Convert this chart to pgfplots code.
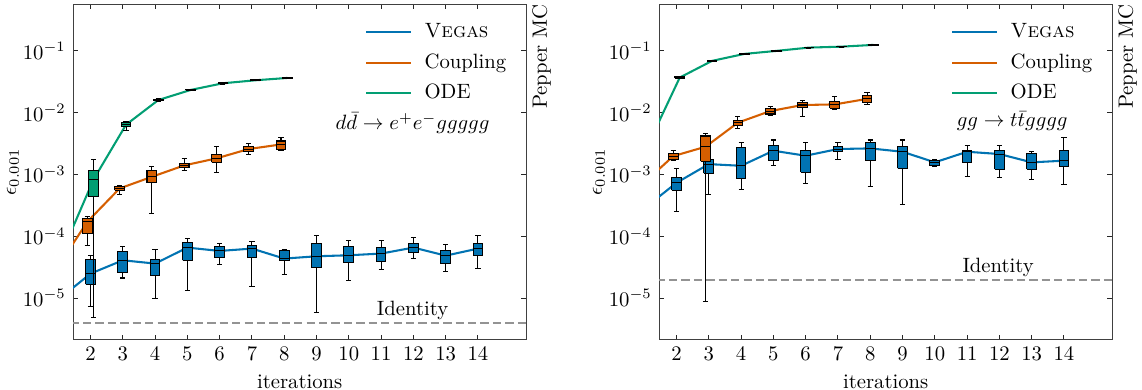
\documentclass[border=0pt]{standalone}
\usepackage{pgfplots}
\pgfplotsset{compat=1.18}
\definecolor{cBlue}{RGB}{1,115,178}
\definecolor{cOrange}{RGB}{213,94,0}
\definecolor{cGreen}{RGB}{2,158,115}
% box: position, lower whisker, lower quartile, median, upper quartile, upper whisker, colour
\newcommand{\bx}[7]{%
 \pgfmathsetmacro\bxL{#1-0.15}\pgfmathsetmacro\bxR{#1+0.15}%
 \pgfmathsetmacro\cpL{#1-0.08}\pgfmathsetmacro\cpR{#1+0.08}%
 \edef\bxtmp{%
 \noexpand\addplot[forget plot, black, line width=0.5pt] coordinates {(#1,#2) (#1,#6)};
 \noexpand\addplot[forget plot, black, line width=0.5pt] coordinates {(\cpL,#2) (\cpR,#2)};
 \noexpand\addplot[forget plot, black, line width=0.5pt] coordinates {(\cpL,#6) (\cpR,#6)};
 \noexpand\addplot[forget plot, draw=black, fill=#7, line width=0.5pt] coordinates {(\bxL,#3) (\bxR,#3) (\bxR,#5) (\bxL,#5) (\bxL,#3)};
 \noexpand\addplot[forget plot, black, line width=0.5pt] coordinates {(\bxL,#4) (\bxR,#4)};}%
 \bxtmp}
\begin{document}
\begin{tikzpicture}
\useasboundingbox (0,0) rectangle (551.7pt,188.4pt);
% ---------------- left panel ----------------
\begin{axis}[
  at={(35.3pt,24.2pt)}, anchor=south west,
  scale only axis, width=219pt, height=162.3pt,
  ymode=log, xmin=1.46, xmax=15.5, ymin=2.1e-6, ymax=0.575,
  xtick={2,...,14}, ytick={1e-5,1e-4,1e-3,1e-2,1e-1}, yminorticks=false,
  tick align=inside, major tick length=2.5pt,
  axis line style={black!75}, tick style={black!85, line width=0.5pt},
  xlabel={iterations}, ylabel={$\epsilon_{0.001}$}, ylabel shift=-5pt,
  clip mode=individual,
  legend cell align=left,
  legend image code/.code={\draw[#1, line width=1pt] (0pt,0pt) -- (21.7pt,0pt);},
  legend style={draw=none, fill=none, inner sep=1pt, row sep=2.2pt, column sep=4pt, at={(0.639,0.961)}, anchor=north west},
]
\addplot[gray!85, line width=0.8pt, dash pattern=on 4pt off 2pt, forget plot] coordinates {(1,3.94e-6) (16,3.94e-6)};
\addplot[cBlue, line width=1pt] coordinates {(1,9.4e-6) (2,2.48e-5) (3,4.08e-5) (4,3.61e-5) (5,6.55e-5) (6,5.78e-5) (7,6.31e-5) (8,4.35e-5) (9,4.74e-5) (10,4.92e-5) (11,5.24e-5) (12,6.55e-5) (13,4.85e-5) (14,6.31e-5)};
\addlegendentry{\textsc{Vegas}}
\addplot[cOrange, line width=1pt] coordinates {(0.9,2.72e-5) (1.9,1.71e-4) (2.9,5.93e-4) (3.9,9.16e-4) (4.9,1.40e-3) (5.9,1.82e-3) (6.9,2.58e-3) (7.9,3.06e-3)};
\addlegendentry{Coupling}
\addplot[cGreen, line width=1pt] coordinates {(1.1,5.2e-5) (2.1,8.39e-4) (3.1,6.38e-3) (4.1,1.60e-2) (5.1,2.33e-2) (6.1,2.99e-2) (7.1,3.34e-2) (8.1,3.65e-2)};
\addlegendentry{ODE}
% Vegas boxes
\bx{2}{7.33e-6}{1.67e-5}{2.48e-5}{4.19e-5}{4.92e-5}{cBlue}
\bx{3}{2.11e-5}{2.58e-5}{4.08e-5}{5.57e-5}{6.71e-5}{cBlue}
\bx{4}{1.0e-5}{2.33e-5}{3.61e-5}{4.19e-5}{6.08e-5}{cBlue}
\bx{5}{1.33e-5}{4.08e-5}{6.55e-5}{7.80e-5}{9.06e-5}{cBlue}
\bx{6}{3.52e-5}{4.46e-5}{5.78e-5}{6.71e-5}{7.60e-5}{cBlue}
\bx{7}{1.55e-5}{4.46e-5}{6.31e-5}{6.97e-5}{8.30e-5}{cBlue}
\bx{8}{2.42e-5}{3.98e-5}{4.35e-5}{5.93e-5}{6.08e-5}{cBlue}
\bx{9}{5.93e-6}{3.10e-5}{4.74e-5}{7.60e-5}{1.03e-4}{cBlue}
\bx{10}{1.89e-5}{3.74e-5}{4.92e-5}{6.71e-5}{8.61e-5}{cBlue}
\bx{11}{2.88e-5}{3.84e-5}{5.24e-5}{6.47e-5}{8.61e-5}{cBlue}
\bx{12}{4.35e-5}{5.43e-5}{6.55e-5}{7.60e-5}{9.51e-5}{cBlue}
\bx{13}{2.70e-5}{3.61e-5}{4.85e-5}{5.78e-5}{7.33e-5}{cBlue}
\bx{14}{2.99e-5}{4.92e-5}{6.31e-5}{7.60e-5}{1.03e-4}{cBlue}
% Coupling boxes
\bx{1.9}{7.14e-5}{1.10e-4}{1.71e-4}{1.93e-4}{2.06e-4}{cOrange}
\bx{2.9}{4.74e-4}{5.57e-4}{5.93e-4}{6.31e-4}{6.55e-4}{cOrange}
\bx{3.9}{2.33e-4}{7.33e-4}{9.16e-4}{1.17e-3}{1.36e-3}{cOrange}
\bx{4.9}{1.15e-3}{1.30e-3}{1.40e-3}{1.51e-3}{1.82e-3}{cOrange}
\bx{5.9}{1.09e-3}{1.57e-3}{1.82e-3}{2.11e-3}{2.81e-3}{cOrange}
\bx{6.9}{2.11e-3}{2.33e-3}{2.58e-3}{2.81e-3}{3.18e-3}{cOrange}
\bx{7.9}{2.48e-3}{2.58e-3}{3.06e-3}{3.48e-3}{3.98e-3}{cOrange}
% ODE boxes
\bx{2.1}{4.79e-6}{4.35e-4}{8.39e-4}{1.17e-3}{1.75e-3}{cGreen}
\bx{3.1}{5.11e-3}{5.93e-3}{6.38e-3}{6.89e-3}{7.14e-3}{cGreen}
\bx{4.1}{1.53e-2}{1.55e-2}{1.60e-2}{1.66e-2}{1.68e-2}{cGreen}
\bx{5.1}{2.26e-2}{2.29e-2}{2.33e-2}{2.38e-2}{2.41e-2}{cGreen}
\bx{6.1}{2.91e-2}{2.95e-2}{2.99e-2}{3.04e-2}{3.08e-2}{cGreen}
\bx{7.1}{3.27e-2}{3.30e-2}{3.34e-2}{3.38e-2}{3.42e-2}{cGreen}
\bx{8.1}{3.58e-2}{3.61e-2}{3.65e-2}{3.70e-2}{3.74e-2}{cGreen}
\node[inner sep=0pt] at (rel axis cs:0.749,0.645) {$d\bar{d}\to e^+e^-ggggg$};
\node at (rel axis cs:0.749,0.089) {Identity};
\node[rotate=90, anchor=north east, inner sep=0pt] at (rel axis cs:1.012,1) {Pepper MC};
\end{axis}
% ---------------- right panel ----------------
\begin{axis}[
  at={(318.4pt,24.2pt)}, anchor=south west,
  scale only axis, width=219pt, height=162.3pt,
  ymode=log, xmin=1.46, xmax=15.5, ymin=2.1e-6, ymax=0.575,
  xtick={2,...,14}, ytick={1e-5,1e-4,1e-3,1e-2,1e-1}, yminorticks=false,
  tick align=inside, major tick length=2.5pt,
  axis line style={black!75}, tick style={black!85, line width=0.5pt},
  xlabel={iterations}, ylabel={$\epsilon_{0.001}$}, ylabel shift=-5pt,
  clip mode=individual,
  legend cell align=left,
  legend image code/.code={\draw[#1, line width=1pt] (0pt,0pt) -- (21.7pt,0pt);},
  legend style={draw=none, fill=none, inner sep=1pt, row sep=2.2pt, column sep=4pt, at={(0.639,0.961)}, anchor=north west},
]
\addplot[gray!85, line width=0.8pt, dash pattern=on 4pt off 2pt, forget plot] coordinates {(1,1.98e-5) (16,1.98e-5)};
\addplot[cBlue, line width=1pt] coordinates {(1,2.82e-4) (2,7.33e-4) (3,1.47e-3) (4,1.38e-3) (5,2.42e-3) (6,2.01e-3) (7,2.58e-3) (8,2.64e-3) (9,2.33e-3) (10,1.57e-3) (11,2.33e-3) (12,2.14e-3) (13,1.57e-3) (14,1.67e-3)};
\addlegendentry{\textsc{Vegas}}
\addplot[cOrange, line width=1pt] coordinates {(0.9,6.62e-4) (1.9,1.98e-3) (2.9,2.81e-3) (3.9,6.89e-3) (4.9,1.06e-2) (5.9,1.33e-2) (6.9,1.36e-2) (7.9,1.67e-2)};
\addlegendentry{Coupling}
\addplot[cGreen, line width=1pt] coordinates {(1.1,2.88e-3) (2.1,3.70e-2) (3.1,6.89e-2) (4.1,8.93e-2) (5.1,0.100) (6.1,0.113) (7.1,0.117) (8.1,0.125)};
\addlegendentry{ODE}
% Vegas boxes
\bx{2}{2.54e-4}{5.57e-4}{7.33e-4}{8.93e-4}{1.25e-3}{cBlue}
\bx{3}{4.80e-4}{1.04e-3}{1.47e-3}{1.77e-3}{1.82e-3}{cBlue}
\bx{4}{5.78e-4}{8.61e-4}{1.38e-3}{2.74e-3}{3.27e-3}{cBlue}
\bx{5}{1.42e-3}{1.67e-3}{2.42e-3}{2.92e-3}{3.61e-3}{cBlue}
\bx{6}{7.14e-4}{1.08e-3}{2.01e-3}{2.48e-3}{3.30e-3}{cBlue}
\bx{7}{1.77e-3}{2.33e-3}{2.58e-3}{2.81e-3}{3.30e-3}{cBlue}
\bx{8}{6.47e-4}{1.71e-3}{2.64e-3}{3.27e-3}{3.61e-3}{cBlue}
\bx{9}{3.30e-4}{1.25e-3}{2.33e-3}{2.81e-3}{3.61e-3}{cBlue}
\bx{10}{1.36e-3}{1.38e-3}{1.57e-3}{1.71e-3}{1.73e-3}{cBlue}
\bx{11}{9.16e-4}{1.55e-3}{2.33e-3}{2.48e-3}{2.92e-3}{cBlue}
\bx{12}{8.83e-4}{1.22e-3}{2.14e-3}{2.42e-3}{2.92e-3}{cBlue}
\bx{13}{8.30e-4}{1.21e-3}{1.57e-3}{2.19e-3}{2.39e-3}{cBlue}
\bx{14}{6.97e-4}{1.36e-3}{1.67e-3}{2.48e-3}{3.98e-3}{cBlue}
% Coupling boxes
\bx{1.9}{1.67e-3}{1.75e-3}{1.98e-3}{2.19e-3}{2.48e-3}{cOrange}
\bx{2.9}{8.83e-6}{1.64e-3}{2.81e-3}{4.19e-3}{4.62e-3}{cOrange}
\bx{3.9}{5.57e-3}{6.15e-3}{6.89e-3}{7.41e-3}{8.61e-3}{cOrange}
\bx{4.9}{9.16e-3}{9.51e-3}{1.06e-2}{1.15e-2}{1.28e-2}{cOrange}
\bx{5.9}{8.61e-3}{1.21e-2}{1.33e-2}{1.47e-2}{1.60e-2}{cOrange}
\bx{6.9}{1.13e-2}{1.18e-2}{1.36e-2}{1.51e-2}{1.82e-2}{cOrange}
\bx{7.9}{1.36e-2}{1.45e-2}{1.67e-2}{1.89e-2}{2.11e-2}{cOrange}
% ODE boxes
\bx{2.1}{3.55e-2}{3.62e-2}{3.70e-2}{3.79e-2}{3.85e-2}{cGreen}
\bx{3.1}{6.7e-2}{6.8e-2}{6.89e-2}{7.0e-2}{7.1e-2}{cGreen}
\bx{4.1}{8.7e-2}{8.8e-2}{8.93e-2}{9.05e-2}{9.15e-2}{cGreen}
\bx{5.1}{0.098}{0.099}{0.100}{0.101}{0.102}{cGreen}
\bx{6.1}{0.111}{0.112}{0.113}{0.114}{0.115}{cGreen}
\bx{7.1}{0.115}{0.116}{0.117}{0.118}{0.119}{cGreen}
\bx{8.1}{0.123}{0.124}{0.125}{0.126}{0.127}{cGreen}
\node[inner sep=0pt] at (rel axis cs:0.779,0.651) {$gg\to t\bar{t}gggg$};
\node at (rel axis cs:0.748,0.217) {Identity};
\node[rotate=90, anchor=north east, inner sep=0pt] at (rel axis cs:1.012,1) {Pepper MC};
\end{axis}
\end{tikzpicture}
\end{document}
